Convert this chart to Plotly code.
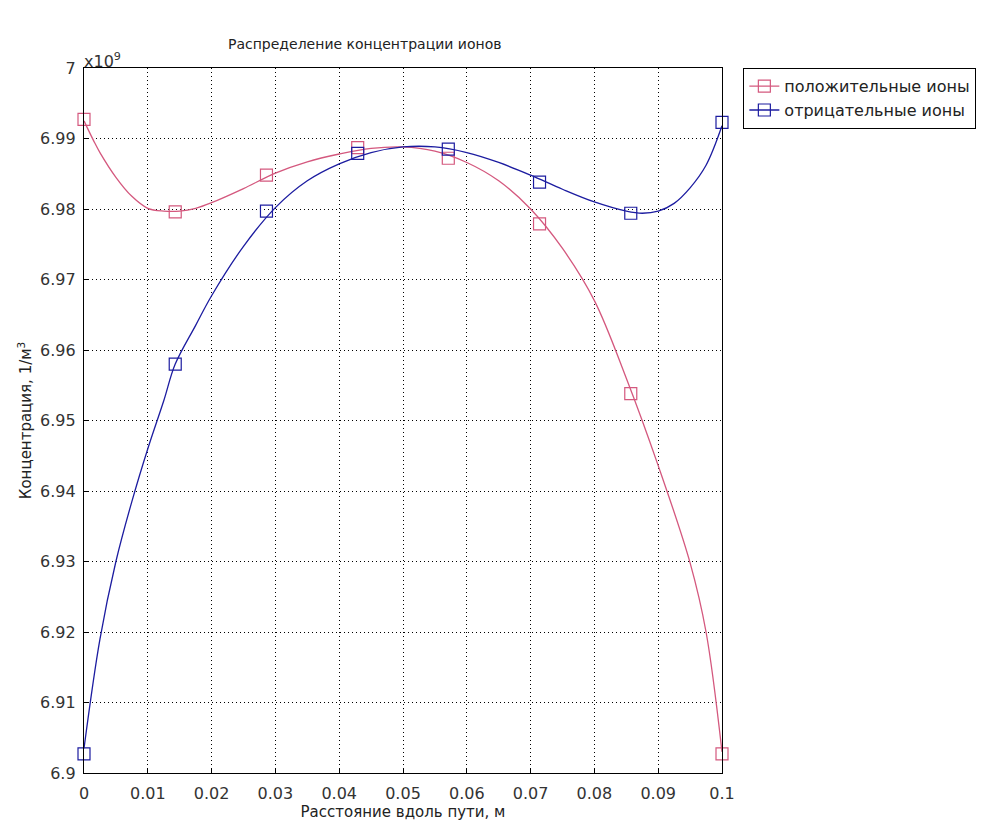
import plotly.graph_objects as go

# ---- data (concentration in units of 1e9 1/m^3) ----
marker_x = [0.0, 0.0143, 0.0286, 0.0429, 0.0571, 0.0714, 0.0857, 0.1]
pos_markers = [6.9927, 6.9796, 6.9848, 6.9887, 6.9872, 6.9779, 6.9538, 6.9027]
neg_markers = [6.9027, 6.9580, 6.9797, 6.9879, 6.9885, 6.9838, 6.9794, 6.9923]

pos_curve_x = [0.0, 0.0015, 0.0025, 0.005, 0.0075, 0.01, 0.0125, 0.015, 0.0175, 0.02,
               0.025, 0.03, 0.035, 0.04, 0.045, 0.05, 0.055, 0.06, 0.065, 0.07,
               0.075, 0.08, 0.085, 0.09, 0.095, 0.0975, 0.1]
pos_curve_y = [6.9925, 6.9897, 6.9880, 6.9845, 6.9818, 6.9801, 6.9797, 6.9797, 6.9801, 6.9809,
               6.9829, 6.9851, 6.9867, 6.9878, 6.9886, 6.9888, 6.9882, 6.9866, 6.9840, 6.9800,
               6.9744, 6.9670, 6.9560, 6.9436, 6.9298, 6.9200, 6.9030]

neg_curve_x = [0.0, 0.0025, 0.005, 0.0075, 0.01, 0.0125, 0.0143, 0.0175, 0.02, 0.025,
               0.03, 0.035, 0.04, 0.045, 0.05, 0.055, 0.06, 0.065, 0.07, 0.075,
               0.08, 0.085, 0.0875, 0.09, 0.0925, 0.095, 0.0975, 0.1]
neg_curve_y = [6.9035, 6.9190, 6.9300, 6.9385, 6.9460, 6.9528, 6.9580, 6.9635, 6.9677, 6.9747,
               6.9802, 6.9840, 6.9864, 6.9880, 6.9888, 6.9888, 6.9880, 6.9866, 6.9848, 6.9828,
               6.9810, 6.9797, 6.9794, 6.9797, 6.9808, 6.9830, 6.9862, 6.9918]

x_ticks = [0, 0.01, 0.02, 0.03, 0.04, 0.05, 0.06, 0.07, 0.08, 0.09, 0.1]
x_labels = ["0", "0.01", "0.02", "0.03", "0.04", "0.05", "0.06", "0.07", "0.08", "0.09", "0.1"]
y_ticks = [6.9, 6.91, 6.92, 6.93, 6.94, 6.95, 6.96, 6.97, 6.98, 6.99, 7.0]
y_labels = ["6.9", "6.91", "6.92", "6.93", "6.94", "6.95", "6.96", "6.97", "6.98", "6.99", "7"]

series_names = ["положительные ионы", "отрицательные ионы"]
PINK = "#d4587e"
BLUE = "#1c1ca0"
FONT = "DejaVu Sans"

fig = go.Figure()
for name, cx, cy, my, col in [
    (series_names[0], pos_curve_x, pos_curve_y, pos_markers, PINK),
    (series_names[1], neg_curve_x, neg_curve_y, neg_markers, BLUE),
]:
    fig.add_trace(go.Scatter(x=cx, y=cy, mode="lines",
                             line=dict(color=col, width=1.3, shape="spline", smoothing=1.0),
                             showlegend=False, hoverinfo="skip"))
    fig.add_trace(go.Scatter(x=marker_x, y=my, mode="markers", name=name,
                             marker=dict(symbol="square-open", size=12, color=col, line=dict(width=1.2, color=col)),
                             cliponaxis=False, showlegend=False))
    # legend entry
    fig.add_trace(go.Scatter(x=[None], y=[None], mode="lines+markers", name=name,
                             line=dict(color=col, width=1.3),
                             marker=dict(symbol="square-open", size=12, color=col, line=dict(width=1.2, color=col))))

axis_common = dict(
    showline=True, linecolor="black", linewidth=1.3, mirror=True,
    ticks="inside", ticklen=4, tickcolor="black",
    showgrid=True, gridcolor="black", gridwidth=1, griddash="1px,3px",
    zeroline=False, tickfont=dict(family=FONT, size=16, color="#333333"),
)

fig.update_xaxes(range=[0, 0.1], tickvals=x_ticks, ticktext=x_labels, ticklabelstandoff=6,
                 title=dict(text="Расстояние вдоль пути, м", font=dict(family=FONT, size=15, color="#222222"), standoff=4),
                 **axis_common)
fig.update_yaxes(range=[6.9, 7.0], tickvals=y_ticks, ticktext=y_labels, ticklabelstandoff=4,
                 title=dict(text="Концентрация, 1/м<sup>3</sup>", font=dict(family=FONT, size=15, color="#222222"), standoff=4),
                 **axis_common)

fig.add_annotation(x=0, y=1, xref="paper", yref="paper", text="x10<sup>9</sup>", showarrow=False,
                   xanchor="left", yanchor="bottom", yshift=-5, xshift=-2, font=dict(family=FONT, size=16, color="#333333"))
fig.add_annotation(x=0.44, y=1, xref="paper", yref="paper", yshift=24, text="Распределение концентрации ионов",
                   showarrow=False, xanchor="center", yanchor="middle", font=dict(family=FONT, size=14, color="#222222"))

fig.update_layout(
    width=989, height=830,
    margin=dict(l=84, r=267, t=68, b=57),
    paper_bgcolor="white", plot_bgcolor="white",
    font=dict(family=FONT, size=13, color="#222222"),
    legend=dict(x=1.033, y=1, xanchor="left", yanchor="top", bordercolor="black", borderwidth=1.3,
                bgcolor="white", font=dict(family=FONT, size=16, color="#222222"),
                itemwidth=30, tracegroupgap=0),
)

fig.write_html("out.html")
